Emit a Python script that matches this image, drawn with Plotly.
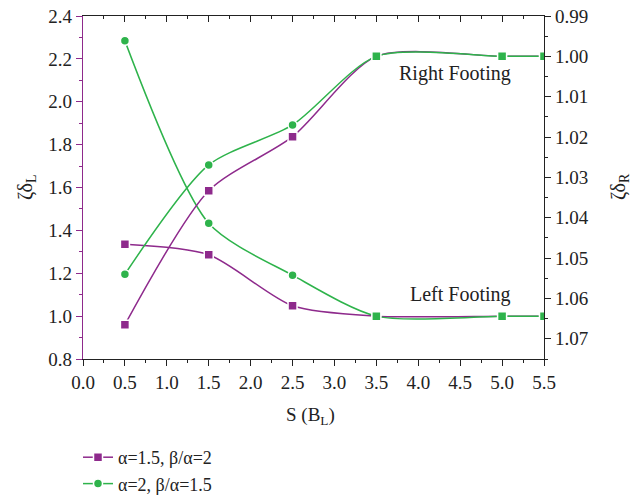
import plotly.graph_objects as go

x_vals = [0.5, 1.5, 2.5, 3.5, 5.0, 5.5]

# Left footing (left axis, ζδ_L)
left_a15 = [1.335, 1.286, 1.048, 1.0, 1.0, 1.0]
left_a2 = [2.284, 1.433, 1.191, 1.0, 1.0, 1.0]
# Right footing (right axis, ζδ_R, reversed)
right_a15 = [1.0665, 1.0333, 1.0199, 1.0, 1.0, 1.0]
right_a2 = [1.0540, 1.0269, 1.0170, 1.0, 1.0, 1.0]

name_a15 = "α=1.5, β/α=2"
name_a2 = "α=2, β/α=1.5"

PURPLE = "#8E2A8C"
GREEN = "#2EB34B"
FONT = "Liberation Serif"
TXT = "#222"

green_symbols = ["circle", "circle", "circle", "square", "square", "square"]

# page body margin is removed below, so the figure is drawn at (0, 0)
W, H = 643, 496
L, T = 83, 16
R, B = 99, 137
PW, PH = W - L - R, H - T - B

fig = go.Figure()

def add(y, color, symbol, name, yaxis, show):
    fig.add_trace(go.Scatter(
        x=x_vals, y=y, mode="lines+markers", name=name, yaxis=yaxis,
        legendgroup=name, showlegend=show,
        line=dict(color=color, width=1.5, shape="spline", smoothing=0.75),
        marker=dict(symbol=symbol, size=9, color=color,
                    line=dict(color="white", width=1.5)),
    ))

add(left_a15, PURPLE, "square", name_a15, "y", True)
add(right_a15, PURPLE, "square", name_a15, "y2", False)
add(left_a2, GREEN, green_symbols, name_a2, "y", True)
add(right_a2, GREEN, green_symbols, name_a2, "y2", False)

# invisible trace to activate top mirror axis
fig.add_trace(go.Scatter(x=[0], y=[None], xaxis="x2", showlegend=False,
                         hoverinfo="skip"))

tickfont = dict(family=FONT, size=19, color=TXT)

def px(xp):  # page x -> paper x
    return (xp - L) / PW

def py(yp):  # page y -> paper y
    return 1 - (yp - T) / PH

fig.update_layout(
    width=W, height=H,
    margin=dict(l=L, r=R, t=T, b=B, autoexpand=False),
    plot_bgcolor="white", paper_bgcolor="white",
    font=dict(family=FONT, size=18, color=TXT),
    xaxis=dict(range=[0, 5.5], dtick=0.5, tick0=0, tickformat=".1f",
               ticks="outside", ticklen=6, tickcolor=TXT,
               showline=True, linecolor=TXT, linewidth=1.2,
               showgrid=False, zeroline=False, tickfont=tickfont,
               ticklabeloverflow="allow",
               minor=dict(dtick=0.25, ticks="outside", ticklen=3, tickcolor=TXT)),
    xaxis2=dict(range=[0, 5.5], overlaying="x", side="top", dtick=0.5, tick0=0,
                ticks="inside", ticklen=6, tickcolor=TXT,
                showline=True, linecolor=TXT, linewidth=1.2,
                showticklabels=False, showgrid=False, zeroline=False,
                minor=dict(dtick=0.25, ticks="inside", ticklen=3, tickcolor=TXT)),
    yaxis=dict(range=[0.8, 2.4], dtick=0.2, tick0=0.8, tickformat=".1f",
               ticks="outside", ticklen=6, tickcolor=PURPLE,
               showline=True, linecolor=PURPLE, linewidth=1.2,
               showgrid=False, zeroline=False, tickfont=tickfont,
               ticklabeloverflow="allow",
               minor=dict(dtick=0.1, ticks="outside", ticklen=3, tickcolor=PURPLE)),
    yaxis2=dict(range=[1.075, 0.99], overlaying="y", side="right",
                dtick=0.01, tick0=0.99, tickformat=".2f",
                ticks="outside", ticklen=6, tickcolor=TXT,
                showline=True, linecolor=TXT, linewidth=1.2,
                showgrid=False, zeroline=False, tickfont=tickfont,
                ticklabeloverflow="allow",
                minor=dict(dtick=0.005, ticks="outside", ticklen=3, tickcolor=TXT)),
    legend=dict(x=78 / W, y=1 - 439 / H, xref="container", yref="container",
                xanchor="left", yanchor="top", bgcolor="rgba(0,0,0,0)",
                font=dict(family=FONT, size=18, color=TXT),
                tracegroupgap=0, itemwidth=30),
    annotations=[
        dict(x=4.435, y=2.133, xref="x", yref="y", text="Right Footing",
             xanchor="center", yanchor="middle",
             showarrow=False, font=dict(family=FONT, size=20, color=TXT)),
        dict(x=4.507, y=1.099, xref="x", yref="y", text="Left Footing",
             xanchor="center", yanchor="middle",
             showarrow=False, font=dict(family=FONT, size=20, color=TXT)),
        dict(x=px(27), y=py(187), xref="paper", yref="paper",
             xanchor="center", yanchor="middle",
             text="ζδ<sub>L</sub>", textangle=-90, showarrow=False,
             font=dict(family=FONT, size=20, color=TXT)),
        dict(x=px(620), y=py(187), xref="paper", yref="paper",
             xanchor="center", yanchor="middle",
             text="ζδ<sub>R</sub>", textangle=-90, showarrow=False,
             font=dict(family=FONT, size=20, color=TXT)),
        dict(x=px(310), y=py(416), xref="paper", yref="paper",
             xanchor="center", yanchor="middle",
             text="S (B<sub>L</sub>)", showarrow=False,
             font=dict(family=FONT, size=19, color=TXT)),
    ],
)

fig.write_html("out.html",
               config={"displayModeBar": False},
               post_script="document.body.style.margin='0';"
                           "document.body.style.overflow='hidden';")
